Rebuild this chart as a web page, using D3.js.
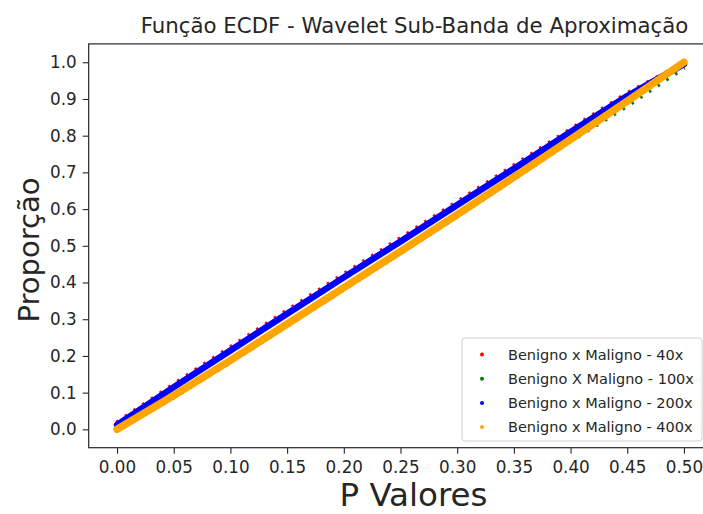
<!DOCTYPE html>
<html><head><meta charset="utf-8">
<script src="https://cdn.jsdelivr.net/npm/d3@7"></script>
<style>
html,body{margin:0;padding:0;background:#fff;}
svg{display:block;font-family:"DejaVu Sans",sans-serif;}
</style></head>
<body>
<svg id="chart" width="703" height="514"></svg>
<script>
// ---- data ----
const pValues = [0.00, 0.05, 0.10, 0.15, 0.20, 0.25, 0.30, 0.35, 0.40, 0.45, 0.50];
const series40x  = [0.016, 0.120, 0.221, 0.321, 0.420, 0.518, 0.617, 0.716, 0.815, 0.913, 0.995];
const series100x = [0.000, 0.090, 0.186, 0.285, 0.384, 0.483, 0.583, 0.685, 0.788, 0.884, 0.988];
const series200x = [0.012, 0.115, 0.215, 0.315, 0.414, 0.512, 0.611, 0.710, 0.810, 0.908, 0.995];
const series400x = [0.000, 0.092, 0.188, 0.287, 0.386, 0.485, 0.585, 0.687, 0.790, 0.894, 1.000];
const seriesNames = ["Benigno x Maligno - 40x", "Benigno X Maligno - 100x", "Benigno x Maligno - 200x", "Benigno x Maligno - 400x"];
const seriesColors = ["red", "green", "blue", "orange"];
const xTicks = [0.00, 0.05, 0.10, 0.15, 0.20, 0.25, 0.30, 0.35, 0.40, 0.45, 0.50];
const yTicks = [0.0, 0.1, 0.2, 0.3, 0.4, 0.5, 0.6, 0.7, 0.8, 0.9, 1.0];
const titleText = "Função ECDF - Wavelet Sub-Banda de Aproximação";
const xLabel = "P Valores";
const yLabel = "Proporção";

// ---- layout ----
const svg = d3.select("#chart");
const mLeft = 88.7, mRight = 712.3, mTop = 43.9, mBottom = 447.7;
const x = d3.scaleLinear().domain([-0.025, 0.525]).range([mLeft, mRight]);
const y = d3.scaleLinear().domain([-0.05, 1.05]).range([mBottom, mTop]);

const allSeries = [series40x, series100x, series200x, series400x];
const styles = [
  {w: 6, dash: "2.5,8"},
  {w: 6, dash: "2.5,8"},
  {w: 6.5, dash: null},
  {w: 7.5, dash: null}
];
const line = d3.line().x(d => x(d[0])).y(d => y(d[1]));
const plot = svg.append("g");
allSeries.forEach((vals, i) => {
  const pts = pValues.map((p, k) => [p, vals[k]]);
  const path = plot.append("path")
    .attr("d", line(pts))
    .attr("fill", "none")
    .attr("stroke", seriesColors[i])
    .attr("stroke-width", styles[i].w)
    .attr("stroke-linecap", "round")
    .attr("stroke-linejoin", "round");
  if (styles[i].dash) path.attr("stroke-dasharray", styles[i].dash).attr("stroke-linecap", "butt");
});

// ---- axes ----
const ink = "#262626";
const xAxis = d3.axisBottom(x).tickValues(xTicks).tickFormat(d3.format(".2f")).tickSize(6).tickPadding(6);
const yAxis = d3.axisLeft(y).tickValues(yTicks).tickFormat(d3.format(".1f")).tickSize(6).tickPadding(6);
const gx = svg.append("g").attr("transform", `translate(0,${mBottom})`).call(xAxis);
const gy = svg.append("g").attr("transform", `translate(${mLeft},0)`).call(yAxis);
[gx, gy].forEach(g => {
  g.select(".domain").remove();
  g.selectAll(".tick line").attr("stroke", ink).attr("stroke-width", 1.1);
  g.selectAll(".tick text").attr("fill", ink).attr("font-size", 16.8).attr("font-family", "DejaVu Sans");
});
gx.selectAll(".tick text").attr("dy", "0.78em");

// spines
svg.append("rect").attr("x", mLeft).attr("y", mTop).attr("width", mRight - mLeft).attr("height", mBottom - mTop)
  .attr("fill", "none").attr("stroke", ink).attr("stroke-width", 1.2);

// ---- texts ----
svg.append("text").attr("x", 414.5).attr("y", 33).attr("text-anchor", "middle")
  .attr("font-size", 21.3).attr("fill", ink).text(titleText);
svg.append("text").attr("x", 413.5).attr("y", 506).attr("text-anchor", "middle")
  .attr("font-size", 32.5).attr("fill", ink).text(xLabel);
svg.append("text").attr("transform", "translate(39,250) rotate(-90)").attr("text-anchor", "middle")
  .attr("font-size", 29).attr("fill", ink).text(yLabel);

// ---- legend ----
const lg = svg.append("g");
lg.append("rect").attr("x", 462).attr("y", 338).attr("width", 240).attr("height", 103).attr("rx", 3)
  .attr("fill", "white").attr("fill-opacity", 0.8).attr("stroke", "#d0d0d0").attr("stroke-width", 1);
seriesNames.forEach((name, i) => {
  const cy = 354.5 + i * 24.2;
  lg.append("circle").attr("cx", 482).attr("cy", cy).attr("r", 2).attr("fill", seriesColors[i]);
  lg.append("text").attr("x", 508).attr("y", cy + 5).attr("font-size", 14.5).attr("fill", ink).text(name);
});
</script>
</body></html>
